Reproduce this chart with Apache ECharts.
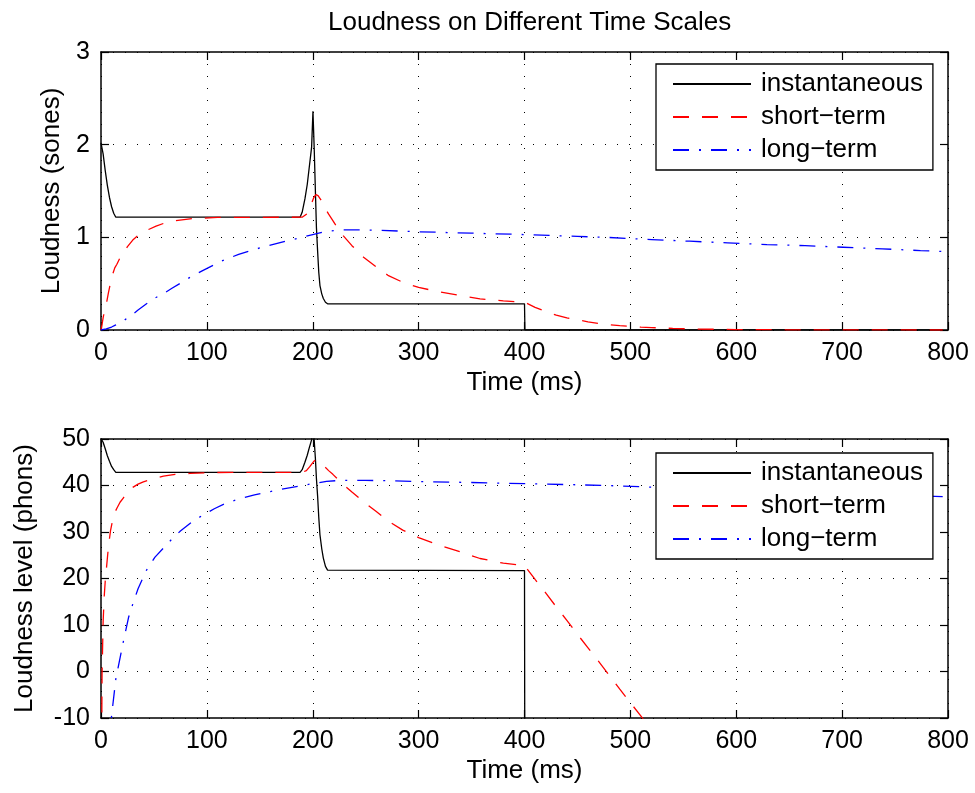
<!DOCTYPE html>
<html><head><meta charset="utf-8">
<script src="https://cdn.jsdelivr.net/npm/echarts@6/dist/echarts.min.js"></script>
<style>html,body{margin:0;padding:0;background:#fff}#c{width:975px;height:793px}</style>
</head><body><div id="c"></div>
<script>
const FONT = '"Liberation Sans", Arial, Helvetica, sans-serif';
const titleText = 'Loudness on Different Time Scales';
const seriesNames = ['instantaneous', 'short\u2212term', 'long\u2212term'];
const xName = 'Time (ms)';
const yNameTop = 'Loudness (sones)';
const yNameBottom = 'Loudness level (phons)';

// Time axis (ms)
const timeMin = 0, timeMax = 800, timeStep = 100;
const sonesMin = 0, sonesMax = 3, sonesStep = 1;
const phonsMin = -10, phonsMax = 50, phonsStep = 10;

// Instantaneous loudness
const instT = [0,2,4,6,8,10,12,14,188,190,192.6,194.8,196.7,198.9,200.2,201.4,202.5,203.5,204.6,205.7,206.8,208.5,210,212,214,400,400.4,795];
const instS = [2.02,1.90,1.72,1.56,1.43,1.33,1.26,1.217,1.217,1.27,1.415,1.57,1.756,1.97,2.36,1.95,1.5,1.1,0.85,0.62,0.48,0.39,0.34,0.30,0.283,0.282,0,0];
const instP = [50.1,49.3,47.9,46.4,45.2,44.1,43.4,42.83,42.83,43.4,45.0,46.5,48.1,49.8,52.4,49.6,45.8,41.4,37.7,33.1,29.4,26.4,24.4,22.6,21.8,21.7,-40];

// Short-term loudness
const shortT = [0,1,2,3,4,5.5,7,9,11,13,15,18,21,25,30,35,40,46,52,59,70,84,110,188,190,194,197,199,201,203,205,208,211,215,219,227,237,248,260,271,285,300,320,340,358,380,400,410,420,430,440,450,460,470,480,490,500,510,520,540,560,580,600,650,700,795];
const shortS = [0,0.06,0.13,0.19,0.24,0.31,0.40,0.51,0.60,0.67,0.71,0.78,0.83,0.90,0.97,1.02,1.06,1.09,1.12,1.15,1.18,1.20,1.215,1.217,1.217,1.25,1.32,1.37,1.43,1.46,1.45,1.40,1.33,1.25,1.18,1.04,0.91,0.785,0.68,0.59,0.515,0.46,0.41,0.37,0.336,0.315,0.30,0.245,0.20,0.16,0.13,0.11,0.088,0.071,0.058,0.047,0.039,0.031,0.026,0.017,0.011,0.008,0.005,0.002,0.001,0];
const shortP = [-40,-0.6,10.6,16.0,19.4,23.1,26.8,30.3,32.6,34.2,35.1,36.4,37.3,38.5,39.6,40.3,40.8,41.2,41.6,42.0,42.4,42.6,42.8,42.83,42.83,43.2,44.0,44.6,45.2,45.5,45.4,44.9,44.1,43.2,42.4,40.6,38.6,36.5,34.4,32.4,30.4,28.8,27.1,25.7,24.3,23.3,22.8,19.8,16.9,13.9,11.0,8.0,5.1,2.2,-0.8,-3.8,-6.7,-9.6,-12.6];

// Long-term loudness
const longT = [0,5,10,14,21,26,30,35,43,51,60,67,75,85,96,107,117,130,145,160,175,188,200,213,227,250,265,300,350,400,450,477,520,556,592,629,665,701,738,774,795];
const longS = [0,0.012,0.032,0.056,0.097,0.14,0.17,0.215,0.283,0.345,0.40,0.45,0.505,0.575,0.64,0.705,0.76,0.815,0.87,0.915,0.96,0.995,1.03,1.065,1.08,1.08,1.075,1.06,1.045,1.03,1.01,1.0,0.976,0.958,0.94,0.922,0.91,0.893,0.876,0.857,0.848];
const longP = [-40,-24,-9.5,-1.6,6.3,11.6,14.5,17.8,21.8,24.6,26.8,28.5,30.2,32.0,33.6,35.0,36.1,37.1,38.0,38.7,39.4,39.9,40.4,40.9,41.1,41.1,41.05,40.85,40.65,40.4,40.15,40.0,39.65,39.4,39.1,38.85,38.65,38.35,38.1,37.75,37.6];

function zip(ts, vs) { return vs.map((v, i) => [ts[i], v]); }

const styles = [
  {color: '#000000', type: 'solid'},
  {color: '#ff0000', type: [16, 13]},
  {color: '#0000ff', type: [16, 10, 2, 10]}
];

function xAx(gi, pos, main) {
  return {
    type: 'value', gridIndex: gi, position: pos, min: timeMin, max: timeMax, interval: timeStep,
    axisLine: {show: true, onZero: false, lineStyle: {color: '#000', width: 1.5}},
    axisTick: {show: true, inside: true, length: 8, lineStyle: {color: '#000', width: 1.2}},
    axisLabel: {show: main, margin: 11, color: '#000', fontSize: 25, fontFamily: FONT},
    splitLine: {show: main, lineStyle: {color: '#000', width: 1, type: [1, 11]}},
    name: main ? xName : '', nameLocation: 'middle', nameGap: 40,
    nameTextStyle: {color: '#000', fontSize: 26, fontFamily: FONT}
  };
}
function yAx(gi, pos, main, mn, mx, st, nm, gap) {
  return {
    type: 'value', gridIndex: gi, position: pos, min: mn, max: mx, interval: st,
    axisLine: {show: true, onZero: false, lineStyle: {color: '#000', width: 1.5}},
    axisTick: {show: true, inside: true, length: 8, lineStyle: {color: '#000', width: 1.2}},
    axisLabel: {show: main, margin: 11, color: '#000', fontSize: 25, fontFamily: FONT},
    splitLine: {show: main, lineStyle: {color: '#000', width: 1, type: [1, 11]}},
    name: main ? nm : '', nameLocation: 'middle', nameGap: gap,
    nameTextStyle: {color: '#000', fontSize: 26, fontFamily: FONT}
  };
}
function legendAt(top) {
  return {
    left: 656, top: top, orient: 'vertical', selectedMode: false,
    itemWidth: 78, itemHeight: 26, itemGap: 7, padding: [7, 10, 7, 16],
    borderColor: '#000', borderWidth: 1.3, backgroundColor: '#fff',
    itemStyle: {opacity: 0},
    textStyle: {fontSize: 26, fontFamily: FONT, color: '#000', padding: [0, 0, 0, 5]},
    data: seriesNames
  };
}
function mk(name, idx, axisIdx, data) {
  return {
    type: 'line', name: name, xAxisIndex: axisIdx, yAxisIndex: axisIdx, data: data,
    symbol: 'none', showSymbol: false, clip: true, animation: false,
    lineStyle: {color: styles[idx].color, width: 1.3, type: styles[idx].type},
    itemStyle: {color: styles[idx].color}
  };
}

const chart = echarts.init(document.getElementById('c'), null, {renderer: 'canvas'});
chart.setOption({
  animation: false,
  backgroundColor: '#fff',
  title: {text: titleText, left: 323, top: 5,
    textStyle: {fontSize: 26, fontWeight: 'normal', fontFamily: FONT, color: '#000'}},
  grid: [
    {left: 101, right: 27, top: 52, height: 278},
    {left: 101, right: 27, top: 439, height: 279}
  ],
  xAxis: [xAx(0, 'bottom', true), xAx(0, 'top', false), xAx(1, 'bottom', true), xAx(1, 'top', false)],
  yAxis: [
    yAx(0, 'left', true, sonesMin, sonesMax, sonesStep, yNameTop, 36),
    yAx(0, 'right', false, sonesMin, sonesMax, sonesStep, '', 0),
    yAx(1, 'left', true, phonsMin, phonsMax, phonsStep, yNameBottom, 63),
    yAx(1, 'right', false, phonsMin, phonsMax, phonsStep, '', 0)
  ],
  legend: [legendAt(64), legendAt(453)],
  series: [
    mk(seriesNames[0], 0, 0, zip(instT, instS)),
    mk(seriesNames[1], 1, 0, zip(shortT, shortS)),
    mk(seriesNames[2], 2, 0, zip(longT, longS)),
    mk(seriesNames[0], 0, 2, zip(instT, instP)),
    mk(seriesNames[1], 1, 2, zip(shortT, shortP)),
    mk(seriesNames[2], 2, 2, zip(longT, longP))
  ]
});
</script>
</body></html>
